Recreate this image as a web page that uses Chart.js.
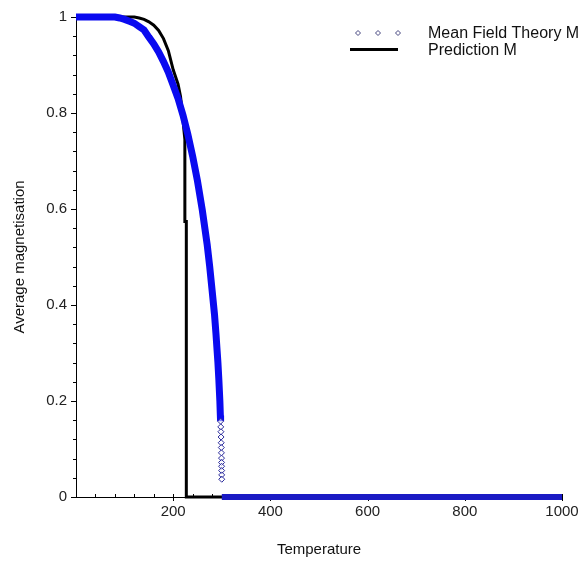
<!DOCTYPE html>
<html>
<head>
<meta charset="utf-8">
<script src="https://cdn.jsdelivr.net/npm/chart.js@4.4.1/dist/chart.umd.min.js"></script>
<style>
  html, body { margin: 0; padding: 0; background: #fff; }
</style>
</head>
<body>
<canvas id="chart" width="583" height="564"></canvas>
<script>
// ── Data ──
const mfTemps = [0, 20, 40, 60, 80, 90, 100, 110, 120, 130, 140, 150, 160, 170, 180, 190, 200, 210, 220, 230,
                 240, 250, 260, 270, 275, 280, 285, 288, 290, 292, 294, 296, 297,
                 297.5, 297.9, 298.2, 298.5, 298.8, 299, 299.2, 299.4, 299.5, 299.6, 299.7, 299.8, 299.9,
                 300, 400, 500, 600, 700, 800, 900, 1000];
const mfMag   = [1, 1, 1, 1, 1, 0.998, 0.995, 0.991, 0.987, 0.98, 0.973, 0.958, 0.944, 0.927, 0.907, 0.885, 0.858, 0.83, 0.796, 0.756,
                 0.71, 0.658, 0.597, 0.525, 0.481, 0.431, 0.38, 0.34, 0.31, 0.28, 0.243, 0.2, 0.17,
                 0.158, 0.146, 0.136, 0.125, 0.113, 0.103, 0.092, 0.081, 0.072, 0.064, 0.055, 0.046, 0.037,
                 0, 0, 0, 0, 0, 0, 0, 0];

const prTemps = [0, 100, 120, 130, 140, 150, 160, 170, 180, 190, 200, 210, 215, 219, 222, 224, 224, 227, 227, 1000];
const prMag   = [1, 1, 1, 0.998, 0.995, 0.99, 0.983, 0.972, 0.955, 0.93, 0.89, 0.86, 0.835, 0.8, 0.765, 0.745, 0.574, 0.574, 0, 0];

const xTickLabels = [200, 400, 600, 800, 1000];
const yTickLabels = [0, 0.2, 0.4, 0.6, 0.8, 1];

const seriesNames = ['Mean Field Theory M', 'Prediction M'];

const toPoints = (xs, ys) => xs.map((x, i) => ({ x: x, y: ys[i] }));
const near = (a, b) => Math.abs(a - b) < 1e-6;

const FONT = "'Liberation Sans', Arial, sans-serif";

// ── Tick marks: x minor ticks point up into the plot, y ticks point left ──
const tickMarks = {
  id: 'tickMarks',
  beforeDatasetsDraw(chart) {
    const { ctx, chartArea: a, scales: { x, y } } = chart;
    ctx.save();
    ctx.strokeStyle = '#000';
    ctx.lineWidth = 1;
    ctx.beginPath();
    x.ticks.forEach(t => {
      const px = Math.round(x.getPixelForValue(t.value)) + 0.5;
      const major = xTickLabels.some(v => near(v, t.value));
      ctx.moveTo(px, a.bottom - 3);
      ctx.lineTo(px, a.bottom + (major ? 4 : 0));
    });
    y.ticks.forEach(t => {
      const py = Math.round(y.getPixelForValue(t.value)) + 0.5;
      const major = yTickLabels.some(v => near(v, t.value));
      ctx.moveTo(a.left - (major ? 5 : 3), py);
      ctx.lineTo(a.left, py);
    });
    ctx.stroke();
    ctx.restore();
  }
};

// ── Legend in the top right corner ──
const legendBox = {
  id: 'legendBox',
  afterDraw(chart) {
    const ctx = chart.ctx;
    const ds = chart.data.datasets;
    ctx.save();
    ctx.strokeStyle = '#45457f';
    ctx.lineWidth = 1;
    [358, 378, 398].forEach(cx => {
      ctx.beginPath();
      ctx.moveTo(cx, 30.5);
      ctx.lineTo(cx + 2.5, 33);
      ctx.lineTo(cx, 35.5);
      ctx.lineTo(cx - 2.5, 33);
      ctx.closePath();
      ctx.stroke();
    });
    ctx.strokeStyle = '#000';
    ctx.lineWidth = 3;
    ctx.beginPath();
    ctx.moveTo(350, 49.5);
    ctx.lineTo(398, 49.5);
    ctx.stroke();
    ctx.fillStyle = '#111';
    ctx.font = '16px ' + FONT;
    ctx.textBaseline = 'middle';
    ctx.fillText(ds[0].label, 428, 34);
    ctx.fillText(ds[1].label, 428, 51);
    ctx.restore();
  }
};

new Chart(document.getElementById('chart'), {
  type: 'scatter',
  data: {
    datasets: [{
      label: seriesNames[0],
      data: toPoints(mfTemps, mfMag),
      showLine: true,
      borderColor: '#0a0af0',
      borderWidth: 7,
      clip: false,
      segment: {
        borderColor: c => {
          const y0 = c.p0.parsed.y, y1 = c.p1.parsed.y;
          if (y0 === 0 && y1 === 0) return '#1a1ac4';
          if (y0 > 0 && y0 < 0.165) return 'transparent';
          return '#0a0af0';
        },
        borderWidth: c => (c.p0.parsed.y === 0 && c.p1.parsed.y === 0 ? 6 : 7)
      },
      pointStyle: 'rectRot',
      pointRadius: c => {
        const v = c.raw ? c.raw.y : 1;
        return v > 0 && v < 0.165 ? 3 : 0;
      },
      pointBackgroundColor: 'rgba(255,255,255,0.5)',
      pointBorderColor: '#2b2b9c',
      pointBorderWidth: 1
    }, {
      label: seriesNames[1],
      data: toPoints(prTemps, prMag),
      showLine: true,
      borderColor: '#000',
      borderWidth: 3,
      pointRadius: 0,
      clip: false
    }]
  },
  options: {
    responsive: false,
    animation: false,
    layout: { padding: { top: 17, right: 21, left: 0, bottom: 0 } },
    plugins: {
      legend: { display: false },
      tooltip: { enabled: false }
    },
    scales: {
      x: {
        type: 'linear',
        min: 0,
        max: 1000,
        afterFit: s => { s.height = 67; },
        border: { display: true, color: '#000', width: 1 },
        grid: { display: false, drawTicks: true, tickLength: 4 },
        ticks: {
          stepSize: 40,
          autoSkip: false,
          maxRotation: 0,
          padding: 2,
          color: '#222',
          font: { family: FONT, size: 15 },
          callback: v => (xTickLabels.some(t => near(t, v)) ? String(Math.round(v)) : '')
        },
        title: {
          display: true,
          text: 'Temperature',
          color: '#111',
          font: { family: FONT, size: 15 },
          padding: { top: 0, bottom: 5 }
        }
      },
      y: {
        type: 'linear',
        min: 0,
        max: 1,
        afterFit: s => { s.width = 76; },
        border: { display: true, color: '#000', width: 1 },
        grid: { display: false, drawTicks: true, tickLength: 4 },
        ticks: {
          stepSize: 0.04,
          autoSkip: false,
          padding: 5,
          color: '#222',
          font: { family: FONT, size: 15 },
          callback: v => {
            const hit = yTickLabels.find(t => near(t, v));
            if (hit === undefined) return '';
            return hit === 0 || hit === 1 ? String(hit) : hit.toFixed(1);
          }
        },
        title: {
          display: true,
          text: 'Average magnetisation',
          color: '#111',
          font: { family: FONT, size: 15 },
          padding: { top: 11, bottom: 0 }
        }
      }
    }
  },
  plugins: [tickMarks, legendBox]
});
</script>
</body>
</html>
